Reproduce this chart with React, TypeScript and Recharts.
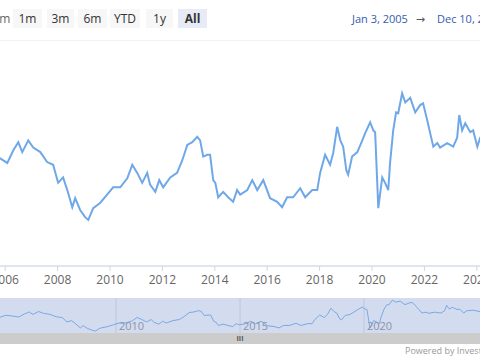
import { LineChart, Line, XAxis, YAxis, CartesianGrid, ReferenceLine } from 'recharts';

// decimal years
const years = [
  2005.0, 2005.3, 2005.55, 2005.81, 2006.08, 2006.31, 2006.5, 2006.65, 2006.88, 2007.07,
  2007.34, 2007.6, 2007.83, 2008.02, 2008.21, 2008.37, 2008.56, 2008.67, 2008.86, 2009.05,
  2009.17, 2009.36, 2009.63, 2009.89, 2010.12, 2010.39, 2010.66, 2010.85, 2011.04, 2011.23,
  2011.42, 2011.53, 2011.73, 2011.88, 2012.03, 2012.3, 2012.56, 2012.76, 2012.95, 2013.14,
  2013.33, 2013.44, 2013.56, 2013.71, 2013.82, 2013.94, 2014.02, 2014.13, 2014.32, 2014.51,
  2014.7, 2014.85, 2014.97, 2015.24, 2015.43, 2015.62, 2015.85, 2016.11, 2016.38, 2016.57,
  2016.76, 2016.99, 2017.26, 2017.45, 2017.72, 2017.91, 2018.02, 2018.21, 2018.4, 2018.52,
  2018.67, 2018.79, 2018.9, 2019.02, 2019.09, 2019.24, 2019.44, 2019.63, 2019.74, 2019.93,
  2020.05, 2020.12, 2020.24, 2020.39, 2020.5, 2020.62, 2020.69, 2020.81, 2020.92, 2021.0,
  2021.15, 2021.27, 2021.46, 2021.65, 2021.84, 2021.95, 2022.11, 2022.22, 2022.34, 2022.49,
  2022.6, 2022.87, 2023.1, 2023.25, 2023.33, 2023.44, 2023.56, 2023.75, 2023.86, 2024.02,
  2024.13, 2024.4, 2024.7, 2024.94,
];

const prices = [
  118, 112, 122, 119, 114, 128, 137, 126, 139, 131,
  126, 115, 112, 92, 98, 84, 65, 75, 62, 54,
  51, 64, 70, 79, 87, 87, 97, 112, 103, 92,
  103, 90, 82, 95, 87, 98, 103, 117, 134, 137,
  143, 139, 121, 123, 123, 95, 92, 76, 82, 76,
  71, 84, 79, 84, 95, 84, 95, 75, 71, 65,
  76, 76, 86, 76, 84, 84, 103, 123, 112, 125,
  154, 139, 132, 106, 101, 121, 126, 139, 147, 159,
  150, 148, 64, 98, 92, 84, 114, 150, 170, 169,
  191, 181, 186, 170, 178, 180, 161, 147, 132, 136,
  131, 136, 132, 142, 167, 150, 158, 148, 150, 132,
  142, 145, 138, 141,
];

const yTicks = [0, 50, 100, 150, 200, 250];
const xTicks = [2006, 2008, 2010, 2012, 2014, 2016, 2018, 2020, 2022, 2024];
const navTicks = [2010, 2015, 2020];
const buttons = ['1m', '3m', '6m', 'YTD', '1y', 'All'];
const rangeFrom = 'Jan 3, 2005';
const rangeTo = 'Dec 10, 2024';

const data = years.map((t, i) => ({ t, v: prices[i] }));
const font = '"Open Sans", "DejaVu Sans", sans-serif';

export default function App() {
  return (
    <div style={{ position: 'absolute', left: 0, top: 0, width: 480, height: 360, overflow: 'hidden', background: '#fff', fontFamily: font }}>
      {/* range selector */}
      <div style={{ position: 'absolute', left: -22, top: 10, fontSize: 12, color: '#666', lineHeight: '18px' }}>Zoom</div>
      {buttons.map((b, i) => (
        <div key={b} style={{
          position: 'absolute', left: [13, 47, 78, 110, 146, 178][i], top: 9, width: [29, 27, 29, 30, 27, 29][i], height: 19,
          background: b === 'All' ? '#e6ebf5' : '#f7f7f7', color: '#333', fontSize: 12, fontWeight: b === 'All' ? 700 : 400,
          textAlign: 'center', lineHeight: '19px',
        }}>{b}</div>
      ))}
      <div style={{ position: 'absolute', left: 352, top: 9, fontSize: 11, color: '#335cad', lineHeight: '19px', whiteSpace: 'nowrap' }}>
        {rangeFrom}<span style={{ color: '#555', margin: '0 12px 0 8px' }}>→</span>{rangeTo}
      </div>

      {/* main chart */}
      <div style={{ position: 'absolute', left: -21, top: 40 }}>
        <LineChart width={524} height={256} data={data} margin={{ top: 0, right: 0, bottom: 0, left: 0 }}>
          <CartesianGrid vertical={false} stroke="#e6e6e6" />
          <XAxis dataKey="t" type="number" domain={[2005, 2025]} ticks={xTicks} height={30}
            stroke="#ccd6eb" tickSize={5} tickMargin={4} tickFormatter={(v) => String(v)}
            tick={{ fill: '#666', fontSize: 12, fontFamily: font }} interval={0} />
          <YAxis domain={[0, 250]} ticks={yTicks} width={0} tick={false} axisLine={false} tickLine={false} />
          <Line type="linear" dataKey="v" stroke="#6fa8e8" strokeWidth={2} dot={false} isAnimationActive={false} />
        </LineChart>
      </div>

      {/* navigator */}
      <div style={{ position: 'absolute', left: 0, top: 298, width: 480, height: 35, background: '#d3dcef' }} />
      <div style={{ position: 'absolute', left: -8, top: 298 }}>
        <LineChart width={496} height={35} data={data} margin={{ top: 0, right: 0, bottom: 0, left: 0 }}>
          <XAxis dataKey="t" type="number" domain={[2005, 2025]} hide />
          <YAxis domain={[42, 200]} hide />
          {navTicks.map((n) => (
            <ReferenceLine key={n} x={n} stroke="#bcc6de" ifOverflow="visible"
              label={{ value: String(n), position: 'insideBottomLeft', fill: '#8b93a8', fontSize: 11, fontFamily: font, dx: -2, dy: 2 }} />
          ))}
          <Line type="linear" dataKey="v" stroke="#7aa8e6" strokeWidth={1} dot={false} isAnimationActive={false} />
        </LineChart>
      </div>

      {/* scrollbar */}
      <div style={{ position: 'absolute', left: 0, top: 333, width: 480, height: 11, background: '#cccccc', color: '#555', fontSize: 7, textAlign: 'center', lineHeight: '11px', fontWeight: 700 }}>III</div>

      <div style={{ position: 'absolute', left: 405, top: 345, fontSize: 9, lineHeight: '12px', color: '#999', whiteSpace: 'nowrap' }}>Powered by InvestSnips</div>
    </div>
  );
}
